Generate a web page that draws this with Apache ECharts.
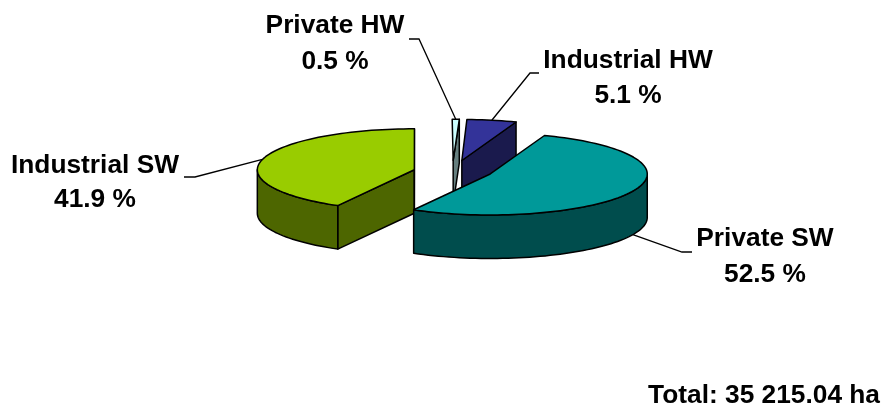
<!DOCTYPE html>
<html><head><meta charset="utf-8">
<style>html,body{margin:0;padding:0;background:#fff}#c{width:886px;height:407px}</style>
<script src="https://cdn.jsdelivr.net/npm/echarts@6/dist/echarts.min.js"></script>
</head><body><div id="c"></div>
<script>
const categories = ['Private SW', 'Industrial SW', 'Private HW', 'Industrial HW'];
const shares = [52.5, 41.9, 0.5, 5.1];
const totalLabel = 'Total: 35 215.04 ha';

const topColors = ['#009999', '#99CC00', '#CCFFFF', '#333399'];
const wallColors = ['#004D4D', '#4D6600', '#667F7F', '#1A1A4D'];
const labelCenterX = [765, 95, 335, 628];
const labelBaselines = [[245, 281], [172, 206], [32, 68], [67, 102]];
const leaderElbows = [[[692, 252], [682, 252]], [[184, 177], [195, 177]], [[409, 39], [419, 39]], [[539, 73], [530, 73]]];
const sliceNudge = [[-1, -1], [0, 2], [-1.5, 0.5], [0, 0.5]];

const pie = {cx: 454, cy: 170.5, rx: 157, ry: 41, depth: 43.5, explode: 41, startAngle: 20.2, minAngle: 2.6};
const FONT = 'bold 26.3px "Liberation Sans", Arial, sans-serif';
const total = shares.reduce((a, b) => a + b, 0);

function rim(c, deg, dy) {
  const t = deg * Math.PI / 180;
  return [c[0] + pie.rx * Math.sin(t), c[1] - pie.ry * Math.cos(t) + (dy || 0)];
}
function arc(c, a, b, dy) {
  const n = Math.max(2, Math.ceil(Math.abs(b - a) / 2)), out = [];
  for (let i = 0; i <= n; i++) out.push(rim(c, a + (b - a) * i / n, dy));
  return out;
}
function poly(points, fill, z2) {
  return {type: 'polygon', z2, shape: {points},
    style: {fill, stroke: '#000', lineWidth: 1.5, lineJoin: 'round'}};
}
function renderSlice(params, api) {
  const i = params.dataIndex;
  let start = pie.startAngle;
  for (let k = 0; k < i; k++) start += shares[k] / total * 360;
  const end = start + api.value(0) / total * 360;
  const mid = (start + end) / 2, t = mid * Math.PI / 180;
  const half = Math.max(end - start, pie.minAngle) / 2;
  const from = mid - half, to = mid + half;
  const c = [pie.cx + pie.explode * Math.sin(t) + sliceNudge[i][0],
             pie.cy - pie.explode * (pie.ry / pie.rx) * Math.cos(t) + sliceNudge[i][1]];
  const d = pie.depth;
  const z = Math.round(c[1] * 10);
  const kids = [];
  const m = x => ((x % 360) + 360) % 360;
  const radial = a => {
    const r = rim(c, a);
    kids.push(poly([c, r, [r[0], r[1] + d], [c[0], c[1] + d]], wallColors[i], z));
  };
  if (m(from) > 90 && m(from) < 270) radial(from);
  if (m(to) < 90 || m(to) > 270) radial(to);
  const a = Math.max(from, 90), b = Math.min(to, 270);
  if (b > a) {
    kids.push(poly(arc(c, a, b, 0).concat(arc(c, b, a, d)), wallColors[i], z + 1));
  }
  kids.push(poly([c].concat(arc(c, from, to, 0)), topColors[i], z + 2));
  const front = Math.cos(t) < -0.2;
  const anchor = rim(c, mid, front ? d : 0);
  kids.push({type: 'polyline', z2: 5000,
    shape: {points: leaderElbows[i].concat([anchor])},
    style: {fill: null, stroke: '#000', lineWidth: 1.3}});
  const txt = (text, base) => ({type: 'text', z2: 5001,
    style: {text, x: labelCenterX[i], y: base - 6, align: 'center', verticalAlign: 'middle',
            font: FONT, fill: '#000'}});
  kids.push(txt(categories[i], labelBaselines[i][0]));
  kids.push(txt(api.value(0).toFixed(1) + ' %', labelBaselines[i][1]));
  return {type: 'group', children: kids};
}
const chart = echarts.init(document.getElementById('c'), null, {renderer: 'canvas'});
chart.setOption({
  animation: false,
  backgroundColor: '#fff',
  series: [{
    type: 'custom',
    coordinateSystem: 'none',
    silent: true,
    renderItem: renderSlice,
    data: shares.map(v => [v])
  }],
  graphic: [{type: 'text', right: 6, top: 383, z: 10,
    style: {text: totalLabel, font: FONT, fill: '#000'}}]
});
</script></body></html>
